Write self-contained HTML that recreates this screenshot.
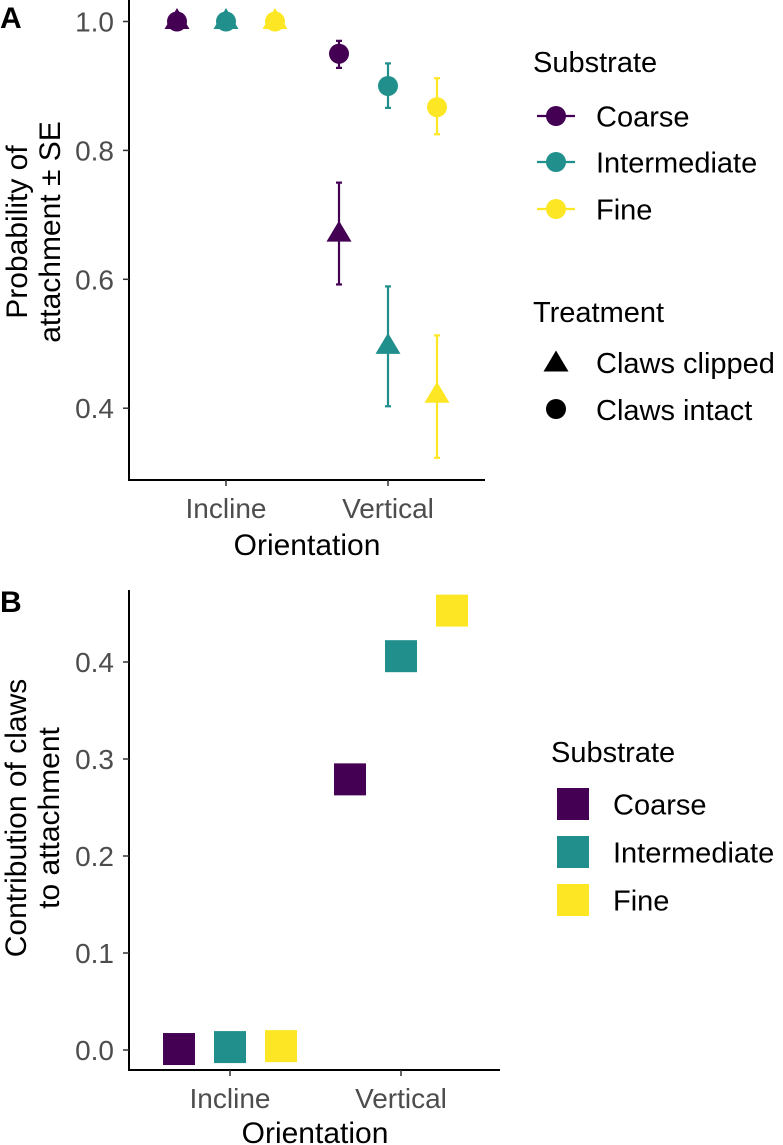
<!DOCTYPE html>
<html><head><meta charset="utf-8"><style>
body{margin:0;background:#fff;}
svg{display:block;font-family:"Liberation Sans",Arial,sans-serif;}
</style></head><body>
<svg id="fig" width="783" height="1145" viewBox="0 0 783 1145" xmlns="http://www.w3.org/2000/svg"></svg>
<script>
const NS="http://www.w3.org/2000/svg";
const orientations=["Incline","Vertical"];
const substrates=["Coarse","Intermediate","Fine"];
const colors=["#440154","#21908C","#FDE725"];
// Panel A: probability of attachment
const intactMean=[[1.0,1.0,1.0],[0.950,0.900,0.867]];
const intactLo=[[1.0,1.0,1.0],[0.928,0.866,0.825]];
const intactHi=[[1.0,1.0,1.0],[0.970,0.935,0.912]];
const clippedMean=[[1.0,1.0,1.0],[0.670,0.496,0.420]];
const clippedLo=[[1.0,1.0,1.0],[0.592,0.403,0.323]];
const clippedHi=[[1.0,1.0,1.0],[0.750,0.589,0.513]];
const ticksA=[0.4,0.6,0.8,1.0];
const tickLabelsA=["0.4","0.6","0.8","1.0"];
// Panel B: contribution of claws
const contribution=[[0.001,0.003,0.004],[0.279,0.406,0.453]];
const ticksB=[0.0,0.1,0.2,0.3,0.4];
const tickLabelsB=["0.0","0.1","0.2","0.3","0.4"];

const svg=document.getElementById('fig');
function el(tag,attrs,parent){const e=document.createElementNS(NS,tag);for(const k in attrs)e.setAttribute(k,attrs[k]);(parent||svg).appendChild(e);return e;}
function txt(s,attrs,parent){const e=el('text',attrs,parent);e.textContent=s;return e;}
const TICK=28, TITLE=30, LEG=29;

// ---------- Panel A ----------
const yA=v=>21.5+(1-v)*644.5;
const xA=(o,s)=>[226,388][o]+(s-1)*49;
const gA=el('g',{});


let t=txt('A',{x:0,y:28,'font-size':30,'font-weight':'bold'},gA);

let ax=el('line',{x1:129,y1:0,x2:129,y2:481,stroke:'#000','stroke-width':2},gA);

ax=el('line',{x1:128,y1:480,x2:485,y2:480,stroke:'#000','stroke-width':2},gA);

ticksA.forEach((v,i)=>{
  el('line',{x1:123,y1:yA(v),x2:129,y2:yA(v),stroke:'#333','stroke-width':1.5},gA);
  const l=txt(tickLabelsA[i],{x:114,y:yA(v)+10,'font-size':TICK,fill:'#4d4d4d','text-anchor':'end'},gA);
  
});
orientations.forEach((o,i)=>{
  const x=[226,388][i];
  el('line',{x1:x,y1:480,x2:x,y2:486,stroke:'#333','stroke-width':1.5},gA);
  const l=txt(o,{x:x,y:518,'font-size':TICK,fill:'#4d4d4d','text-anchor':'middle'},gA);
  
});
t=txt('Orientation',{x:307,y:555,'font-size':TITLE,'text-anchor':'middle'},gA);

t=txt('',{transform:'translate(27,232) rotate(-90)','font-size':TITLE,'text-anchor':'middle'},gA);

el('tspan',{x:0,dy:0},t).textContent='Probability of';
el('tspan',{x:0,dy:33},t).textContent='attachment ± SE';

function tri(cx,cy,c,p,r){return el('polygon',{points:`${cx},${cy-r*1.08} ${cx-r},${cy+r*0.6} ${cx+r},${cy+r*0.6}`,fill:c},p);}
for(let o=0;o<2;o++)for(let s=0;s<3;s++){
  const x=xA(o,s),c=colors[s];
  [[clippedLo,clippedHi],[intactLo,intactHi]].forEach(([lo,hi])=>{
    if(hi[o][s]-lo[o][s]>0.001){
      const e=el('g',{},gA);
      
      el('line',{x1:x,y1:yA(hi[o][s]),x2:x,y2:yA(lo[o][s]),stroke:c,'stroke-width':2.2},e);
      el('line',{x1:x-3,y1:yA(hi[o][s]),x2:x+3,y2:yA(hi[o][s]),stroke:c,'stroke-width':2.2},e);
      el('line',{x1:x-3,y1:yA(lo[o][s]),x2:x+3,y2:yA(lo[o][s]),stroke:c,'stroke-width':2.2},e);
    }
  });
  const tr=tri(x,yA(clippedMean[o][s]),c,gA,12.5);
  
  const ci=el('circle',{cx:x,cy:yA(intactMean[o][s]),r:10,fill:c},gA);
  
}
// Legend A
const lgA=el('g',{},svg);

txt('Substrate',{x:533,y:72,'font-size':LEG},lgA);
substrates.forEach((s,i)=>{
  const y=[116,162,209][i];
  const g=el('g',{},lgA);
  
  el('line',{x1:537,y1:y,x2:575,y2:y,stroke:colors[i],'stroke-width':2.2},g);
  el('circle',{cx:556,cy:y,r:10,fill:colors[i]},g);
  txt(s,{x:596,y:y+10.5,'font-size':LEG},g);
});
txt('Treatment',{x:533,y:322,'font-size':LEG},lgA);
let g1=el('g',{},lgA);

tri(556,364,'#000',g1,12.5);
txt('Claws clipped',{x:596,y:373,'font-size':LEG},g1);
g1=el('g',{},lgA);

el('circle',{cx:556,cy:409,r:10,fill:'#000'},g1);
txt('Claws intact',{x:596,y:420,'font-size':LEG},g1);

// ---------- Panel B ----------
const yB=v=>1050-v*970;
const xB=(o,s)=>[230,401][o]+(s-1)*51;
const gB=el('g',{});

t=txt('B',{x:0,y:612,'font-size':30,'font-weight':'bold'},gB);

ax=el('line',{x1:129,y1:590,x2:129,y2:1071,stroke:'#000','stroke-width':2},gB);

ax=el('line',{x1:128,y1:1070,x2:500,y2:1070,stroke:'#000','stroke-width':2},gB);

ticksB.forEach((v,i)=>{
  el('line',{x1:123,y1:yB(v),x2:129,y2:yB(v),stroke:'#333','stroke-width':1.5},gB);
  const l=txt(tickLabelsB[i],{x:114,y:yB(v)+10,'font-size':TICK,fill:'#4d4d4d','text-anchor':'end'},gB);
  
});
orientations.forEach((o,i)=>{
  const x=[230,401][i];
  el('line',{x1:x,y1:1070,x2:x,y2:1076,stroke:'#333','stroke-width':1.5},gB);
  const l=txt(o,{x:x,y:1108,'font-size':TICK,fill:'#4d4d4d','text-anchor':'middle'},gB);
  
});
t=txt('Orientation',{x:315,y:1143,'font-size':TITLE,'text-anchor':'middle'},gB);

t=txt('',{transform:'translate(26,818) rotate(-90)','font-size':TITLE,'text-anchor':'middle'},gB);

el('tspan',{x:0,dy:0},t).textContent='Contribution of claws';
el('tspan',{x:0,dy:33},t).textContent='to attachment';
for(let o=0;o<2;o++)for(let s=0;s<3;s++){
  const r=el('rect',{x:xB(o,s)-16,y:yB(contribution[o][s])-16,width:32,height:32,fill:colors[s]},gB);
  
  
}
const lgB=el('g',{},svg);

txt('Substrate',{x:551,y:762,'font-size':LEG},lgB);
substrates.forEach((s,i)=>{
  const y=[804,852,900][i];
  const g=el('g',{},lgB);
  
  el('rect',{x:557,y:y-16,width:32,height:32,fill:colors[i]},g);
  txt(s,{x:613,y:y+10.5,'font-size':LEG},g);
});
</script>
</body></html>
